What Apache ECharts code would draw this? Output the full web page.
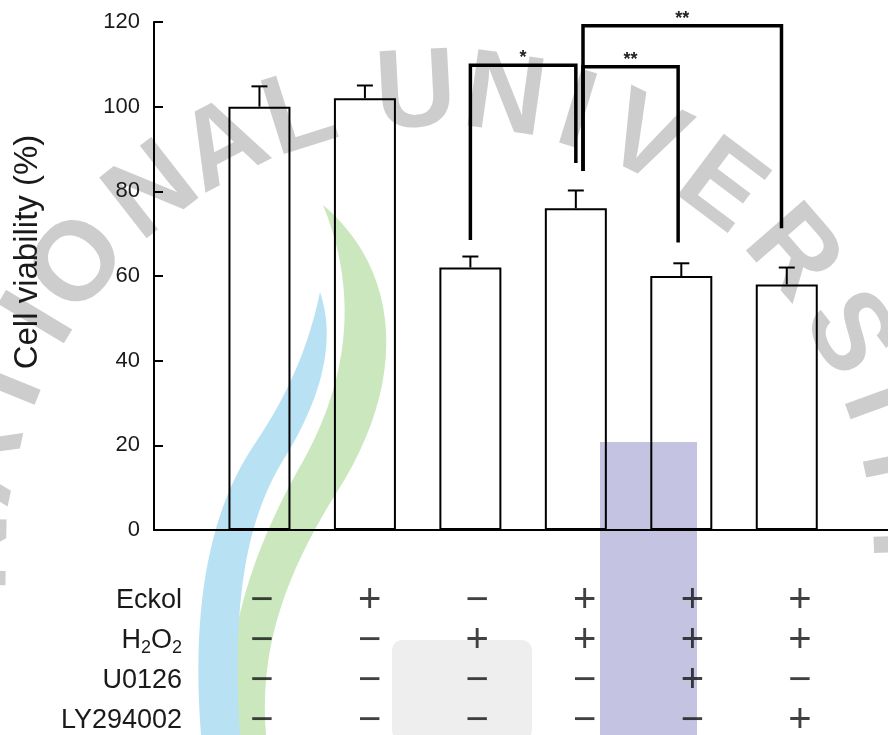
<!DOCTYPE html>
<html>
<head>
<meta charset="utf-8">
<script src="https://cdn.jsdelivr.net/npm/echarts@6/dist/echarts.min.js"></script>
<style>
  html, body { margin: 0; padding: 0; background: #fff; }
  #chart { width: 888px; height: 735px; }
</style>
</head>
<body>
<div id="chart"></div>
<script>
// Treatment groups (x positions 1..6)
const groups = [1, 2, 3, 4, 5, 6];
// Mean cell viability (%) and upper error (SD)
const viability = [100, 102, 62, 76, 60, 58];
const viabilitySd = [4.8, 3, 2.6, 4.2, 3, 4];
// Y axis ticks
const yTicks = [0, 20, 40, 60, 80, 100, 120];
// Treatment table rows
const treatments = ['Eckol', 'H2O2', 'U0126', 'LY294002'];
const eckolSigns = ['-', '+', '-', '+', '+', '+'];
const h2o2Signs = ['-', '-', '+', '+', '+', '+'];
const u0126Signs = ['-', '-', '-', '-', '+', '-'];
const lySigns = ['-', '-', '-', '-', '-', '+'];
// Significance comparisons
const sigFrom = [3, 4, 4];
const sigTo = [4, 5, 6];
const sigMarks = ['*', '**', '**'];

const FONT = '"Liberation Sans", Arial, Helvetica, sans-serif';
const INK = '#1a1a1a';

// bracket drawing layout (value space): top level, leg ends, leg x nudges
const bracketLayout = [
  { top: 109.8, legA: 68.5, legB: 86.7, dxA: 0, dxB: 0 },
  { top: 109.4, legA: 84.8, legB: 67.9, dxA: 0.068, dxB: -0.03 },
  { top: 119.1, legA: 84.8, legB: 71.3, dxA: 0.068, dxB: -0.05 }
];

// sample a chain of cubic bezier segments into polygon points
function bezierOutline(start, segs) {
  const pts = [start];
  let p0 = start;
  segs.forEach(s => {
    if (s.length === 1) { pts.push(s[0]); p0 = s[0]; return; }
    const [c1, c2, p3] = s;
    for (let k = 1; k <= 24; k++) {
      const t = k / 24, u = 1 - t;
      pts.push([
        u * u * u * p0[0] + 3 * u * u * t * c1[0] + 3 * u * t * t * c2[0] + t * t * t * p3[0],
        u * u * u * p0[1] + 3 * u * u * t * c1[1] + 3 * u * t * t * c2[1] + t * t * t * p3[1]
      ]);
    }
    p0 = p3;
  });
  return pts;
}

// background watermark: arched lettering plus coloured emblem shapes
function watermark() {
  const word = 'NATIONAL UNIVERSITY';
  const angles = [-89, -78, -68, -59, -50.7, -38, -27.6, -17.5, null, -3, 8, 17, 26, 37, 49, 61, 70, 78, 88];
  const cx = 440, cy = 560, r = 465;
  const els = [];
  els.push({
    type: 'rect', z: -20, silent: true,
    shape: { x: 392, y: 640, width: 140, height: 100, r: 10 },
    style: { fill: '#eeeeee' }
  });
  els.push({
    type: 'polygon', z: -19, silent: true,
    shape: { points: bezierOutline([323, 205], [
      [[400, 270], [410, 380], [335, 495]],
      [[292, 565], [258, 640], [266, 735]],
      [[226, 735]],
      [[226, 640], [248, 560], [298, 470]],
      [[345, 390], [362, 300], [323, 205]]
    ]) },
    style: { fill: '#cbe7bd' }
  });
  els.push({
    type: 'polygon', z: -18, silent: true,
    shape: { points: bezierOutline([320, 292], [
      [[338, 345], [318, 405], [282, 462]],
      [[244, 525], [232, 610], [240, 735]],
      [[201, 735]],
      [[192, 620], [205, 520], [252, 448]],
      [[286, 398], [308, 350], [320, 292]]
    ]) },
    style: { fill: '#b9e1f4' }
  });
  els.push({
    type: 'rect', z: -17, silent: true,
    shape: { x: 600, y: 442, width: 97, height: 300 },
    style: { fill: '#c4c4e2' }
  });
  for (let i = 0; i < word.length; i++) {
    if (angles[i] === null) continue;
    const a = angles[i] * Math.PI / 180;
    els.push({
      type: 'text', z: -16, silent: true,
      x: cx + r * Math.sin(a), y: cy - r * Math.cos(a),
      rotation: -a,
      style: {
        text: word[i], font: 'bold 112px ' + FONT, fill: 'rgba(175,175,175,0.62)',
        align: 'center', verticalAlign: 'middle',
        shadowBlur: 8, shadowColor: 'rgba(175,175,175,0.6)'
      }
    });
  }
  return els;
}

const chart = echarts.init(document.getElementById('chart'), null, { renderer: 'canvas' });

const barData = groups.map((g, i) => [g, viability[i]]);
const errData = groups.map((g, i) => [g, viability[i], viability[i] + viabilitySd[i]]);
const bracketData = sigFrom.map((a, i) => {
  const L = bracketLayout[i];
  return [a + L.dxA, sigTo[i] + L.dxB, L.top, L.legA, L.legB, i];
});

const signRows = [eckolSigns, h2o2Signs, u0126Signs, lySigns];
const signData = [];
signRows.forEach((row, r) => {
  row.forEach((s, c) => {
    signData.push({ value: [groups[c], treatments[r]], sign: s });
  });
});

const option = {
  backgroundColor: '#fff',
  animation: false,
  textStyle: { fontFamily: FONT },
  graphic: {
    elements: watermark().concat([
      {
        type: 'text',
        x: 28, y: 252,
        rotation: Math.PI / 2,
        style: {
          text: 'Cell viability (%)',
          font: '33px ' + FONT,
          fill: INK,
          align: 'center',
          verticalAlign: 'middle'
        }
      }
    ])
  },
  grid: [
    { left: 154, right: 0, top: 22, bottom: 205 },
    { left: 196, right: 2, top: 601, bottom: 14 }
  ],
  xAxis: [
    {
      type: 'value', gridIndex: 0, min: 0, max: 6.96,
      axisLine: { show: true, onZero: false, lineStyle: { color: '#000', width: 2 } },
      axisTick: { show: false }, axisLabel: { show: false }, splitLine: { show: false }
    },
    {
      type: 'value', gridIndex: 1, min: 0.3866, max: 6.8,
      axisLine: { show: false }, axisTick: { show: false },
      axisLabel: { show: false }, splitLine: { show: false }
    }
  ],
  yAxis: [
    {
      type: 'value', gridIndex: 0, min: 0, max: 120, interval: 20,
      axisLine: { show: true, lineStyle: { color: '#000', width: 2 } },
      axisTick: { show: true, inside: true, length: 9, lineStyle: { color: '#000', width: 2 } },
      axisLabel: {
        margin: 14, fontSize: 22, color: INK, fontFamily: FONT,
        formatter: v => (yTicks.indexOf(v) >= 0 ? String(v) : '')
      },
      splitLine: { show: false }
    },
    {
      type: 'category', gridIndex: 1, data: treatments, inverse: true, boundaryGap: false,
      axisLine: { show: false }, axisTick: { show: false }, splitLine: { show: false },
      axisLabel: {
        margin: 14, color: INK, fontFamily: FONT,
        formatter: v => (v === 'H2O2' ? '{n|H}{s|2}{n|O}{s|2}' : '{n|' + v + '}'),
        rich: {
          n: { fontSize: 27, lineHeight: 32, fontFamily: FONT, color: INK },
          s: { fontSize: 18, lineHeight: 12, verticalAlign: 'bottom', fontFamily: FONT, color: INK }
        }
      }
    }
  ],
  series: [
    {
      type: 'bar', xAxisIndex: 0, yAxisIndex: 0,
      data: barData, barWidth: 62,
      itemStyle: { color: 'rgba(255,255,255,0)', borderColor: '#000', borderWidth: 2 },
      z: 2
    },
    {
      type: 'custom', xAxisIndex: 0, yAxisIndex: 0, data: errData, z: 3,
      renderItem: (params, api) => {
        const base = api.coord([api.value(0), api.value(1)]);
        const top = api.coord([api.value(0), api.value(2)]);
        const half = 8;
        return {
          type: 'group',
          children: [
            { type: 'line', shape: { x1: base[0], y1: base[1], x2: top[0], y2: top[1] },
              style: { stroke: '#000', lineWidth: 2 } },
            { type: 'line', shape: { x1: top[0] - half, y1: top[1], x2: top[0] + half, y2: top[1] },
              style: { stroke: '#000', lineWidth: 2 } }
          ]
        };
      }
    },
    {
      type: 'custom', xAxisIndex: 0, yAxisIndex: 0, data: bracketData, z: 4,
      renderItem: (params, api) => {
        const xa = api.value(0), xb = api.value(1), yt = api.value(2);
        const pA = api.coord([xa, api.value(3)]);
        const pAt = api.coord([xa, yt]);
        const pBt = api.coord([xb, yt]);
        const pB = api.coord([xb, api.value(4)]);
        const mark = sigMarks[api.value(5)];
        return {
          type: 'group',
          children: [
            { type: 'polyline', shape: { points: [pA, pAt, pBt, pB] },
              style: { stroke: '#000', lineWidth: 3.5, fill: null, lineJoin: 'miter' } },
            { type: 'text', x: (pAt[0] + pBt[0]) / 2, y: pAt[1] - 7,
              style: { text: mark, font: 'bold 18px ' + FONT, fill: '#222',
                       align: 'center', verticalAlign: 'middle' } }
          ]
        };
      }
    },
    {
      type: 'scatter', xAxisIndex: 1, yAxisIndex: 1,
      data: signData, symbolSize: 0, silent: true,
      label: {
        show: true, position: 'inside',
        formatter: p => (p.data.sign === '+' ? '+' : '\u2212'),
        fontSize: 40, fontFamily: FONT, color: '#111'
      }
    }
  ]
};

chart.setOption(option);
</script>
</body>
</html>
